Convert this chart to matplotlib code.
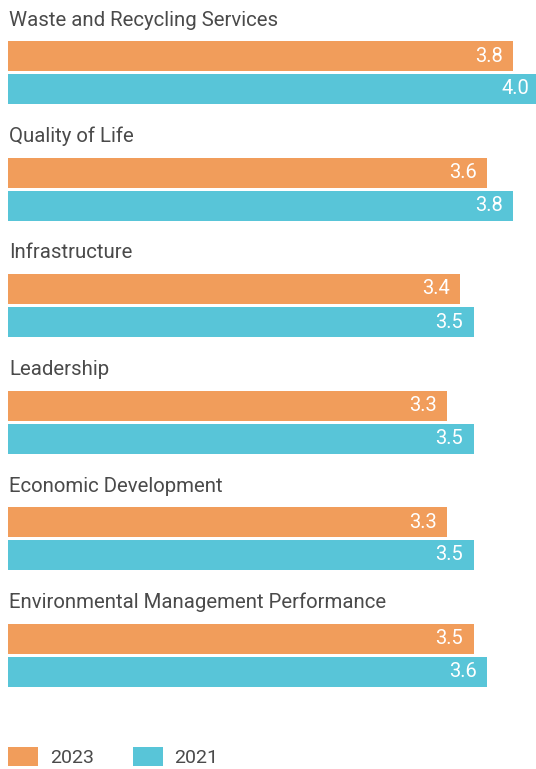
import matplotlib.pyplot as plt
import numpy as np

plt.rcParams['font.family'] = ['Roboto', 'DejaVu Sans']

categories = ['Waste and Recycling Services', 'Quality of Life', 'Infrastructure',
              'Leadership', 'Economic Development', 'Environmental Management Performance']
values_2023 = [3.8, 3.6, 3.4, 3.3, 3.3, 3.5]
values_2021 = [4.0, 3.8, 3.5, 3.5, 3.5, 3.6]
series_labels = ['2023', '2021']

orange = '#F19D5B'
teal = '#58C5D8'
text_color = '#4a4a4a'

W, H = 536, 769
fig = plt.figure(figsize=(W / 100, H / 100), dpi=100)
# y axis works in pixels from the top, x axis in score units
ax = fig.add_axes([8 / W, 0, 528 / W, 1])
ax.set_xlim(0, 528 / 133)
ax.set_ylim(H, 0)
ax.axis('off')

pitch = 116.5
tops = 41 + pitch * np.arange(len(categories))
bar_h = 30

b1 = ax.barh(tops + bar_h / 2, values_2023, height=bar_h, color=orange, label=series_labels[0])
b2 = ax.barh(tops + 33 + bar_h / 2, values_2021, height=bar_h, color=teal, label=series_labels[1])

for bars, vals in [(b1, values_2023), (b2, values_2021)]:
    for rect, v in zip(bars, vals):
        ax.annotate(f'{v:.1f}', (v, rect.get_y() + rect.get_height() / 2),
                    xytext=(-7.5, 0), textcoords='offset points', annotation_clip=False,
                    ha='right', va='center', color='white', fontsize=14.5)

for cat, t in zip(categories, tops):
    ax.text(0.01, t - 21, cat, ha='left', va='center', color=text_color, fontsize=14.7)

leg = ax.legend(handles=[b1, b2], loc='center left', bbox_to_anchor=(0, 1 - 757 / H),
                ncol=2, frameon=False, fontsize=14, handlelength=1.55, handleheight=1.1,
                handletextpad=0.6, columnspacing=2.0, borderaxespad=0, borderpad=0)
for t in leg.get_texts():
    t.set_color(text_color)

fig.savefig('out.png', dpi=100)
